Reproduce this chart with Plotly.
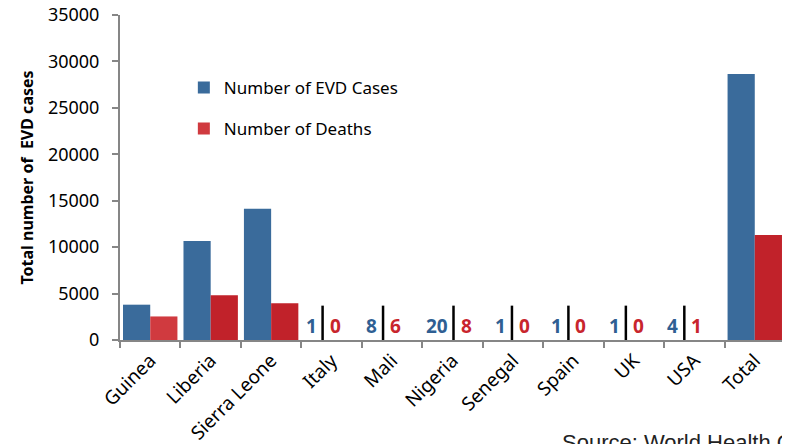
import plotly.graph_objects as go

countries = ["Guinea", "Liberia", "Sierra Leone", "Italy", "Mali", "Nigeria",
             "Senegal", "Spain", "UK", "USA", "Total"]
cases = [3804, 10675, 14124, 1, 8, 20, 1, 1, 1, 4, 28639]
deaths = [2536, 4809, 3956, 0, 6, 8, 0, 0, 0, 1, 11316]
y_ticks = [0, 5000, 10000, 15000, 20000, 25000, 30000, 35000]

# styling (pixel offsets of the small-count separators)
sep_offsets = [-9, -9, 1, -1, -5, -8, -10]

BLUE = "#3a6b9b"
RED = "#c1222a"
TXT_BLUE = "#2f5f93"
TXT_RED = "#c8252d"
FONT = "Noto Sans"

small = [i for i, c in enumerate(cases) if c < 100]
bar_opacity = [0 if i in small else 1 for i in range(len(countries))]
death_colors = ["#d03a3f"] + [RED] * (len(countries) - 1)

fig = go.Figure()
fig.add_bar(x=countries, y=cases, name="Number of EVD Cases",
            marker=dict(color=BLUE, line=dict(width=0), opacity=bar_opacity),
            legendgroup="a")
fig.add_bar(x=countries, y=deaths, name="Number of Deaths",
            marker=dict(color=death_colors, line=dict(width=0), opacity=bar_opacity),
            legendgroup="b")

annotations = []
shapes = []
for k, i in enumerate(small):
    off = sep_offsets[k] if k < len(sep_offsets) else 0
    annotations.append(dict(x=countries[i], y=0, xref="x", yref="y",
                            text=str(cases[i]), showarrow=False,
                            xanchor="right", yanchor="bottom", xshift=off - 4,
                            yshift=-1,
                            font=dict(family=FONT, size=19, color=TXT_BLUE, weight="bold")))
    annotations.append(dict(x=countries[i], y=0, xref="x", yref="y",
                            text=str(deaths[i]), showarrow=False,
                            xanchor="left", yanchor="bottom", xshift=off + 5,
                            yshift=-1,
                            font=dict(family=FONT, size=19, color=TXT_RED, weight="bold")))
    shapes.append(dict(type="line", xref="x", yref="y", xsizemode="pixel",
                       xanchor=i, x0=off, x1=off, y0=0, y1=3700,
                       line=dict(color="black", width=2.5)))

annotations.append(dict(x=0.662, xref="paper", xanchor="left",
                        y=-0.272, yref="paper", yanchor="top",
                        text="Source: World Health Organization", showarrow=False,
                        font=dict(family="Liberation Sans", size=22, color="#222222")))

fig.update_layout(
    width=790, height=444,
    margin=dict(l=112, r=13, t=7, b=112),
    paper_bgcolor="white", plot_bgcolor="white",
    barmode="group", bargap=0.1, bargroupgap=0,
    font=dict(family=FONT, size=17, color="black"),
    showlegend=True,
    legend=dict(x=0.096, y=0.831, xanchor="left", yanchor="top",
                traceorder="grouped", tracegroupgap=16,
                font=dict(family=FONT, size=17, color="black"),
                bgcolor="rgba(0,0,0,0)"),
    annotations=annotations,
    shapes=shapes,
)
fig.update_xaxes(type="category", tickangle=-45, showline=True, linecolor="#868686",
                 linewidth=2, ticks="outside", tickson="boundaries", ticklen=6,
                 tickcolor="#868686", tickwidth=2, showgrid=False, automargin=False,
                 tickfont=dict(family=FONT, size=19, color="black"))
fig.update_yaxes(range=[0, 35000], tickvals=y_ticks, ticktext=[str(v) for v in y_ticks],
                 showline=True, linecolor="#868686", linewidth=2, ticks="outside",
                 ticklen=6, tickcolor="#868686", tickwidth=2, showgrid=False,
                 zeroline=False, ticklabelstandoff=9, automargin=False,
                 ticklabeloverflow="allow",
                 tickfont=dict(family=FONT, size=18, color="black"),
                 title=dict(text="<b>Total number of  EVD cases</b>",
                            font=dict(family=FONT, size=16, color="black"), standoff=10))

fig.write_html("out.html")
